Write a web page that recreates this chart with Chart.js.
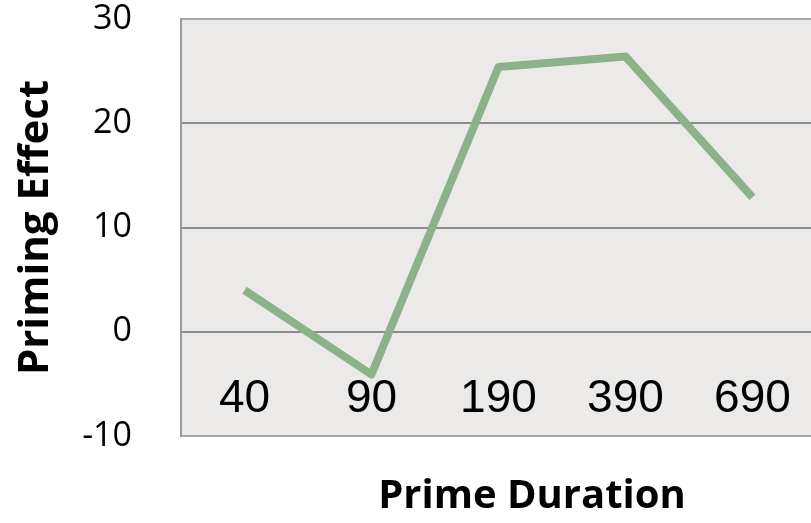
<!DOCTYPE html>
<html>
<head>
<meta charset="utf-8">
<script src="https://cdn.jsdelivr.net/npm/chart.js@4/dist/chart.umd.min.js"></script>
<style>
  html, body { margin: 0; padding: 0; background: #fff; overflow: hidden; }
  #wrap { width: 883px; height: 523px; }
</style>
</head>
<body>
<div id="wrap"><canvas id="chart" width="883" height="523"></canvas></div>
<script>
const categories = ['40', '90', '190', '390', '690'];
const primingEffect = [4.0, -4.1, 25.4, 26.4, 12.9];
const yTicks = [-10, 0, 10, 20, 30];

const plotBg = {
  id: 'plotBg',
  beforeDraw(chart) {
    const { ctx, chartArea: a } = chart;
    ctx.save();
    ctx.fillStyle = '#ebeae8';
    ctx.fillRect(a.left, a.top, a.right - a.left, a.bottom - a.top);
    ctx.restore();
  }
};

new Chart(document.getElementById('chart'), {
  type: 'line',
  data: {
    datasets: [{
      data: primingEffect.map((v, i) => ({ x: i, y: v })),
      borderColor: '#8cb28a',
      borderWidth: 8,
      borderJoinStyle: 'round',
      pointRadius: 0,
      tension: 0,
      fill: false
    }]
  },
  options: {
    responsive: false,
    animation: false,
    devicePixelRatio: 1,
    layout: { padding: { top: 19, left: 0, right: 0, bottom: 0 } },
    plugins: {
      legend: { display: false },
      tooltip: { enabled: false },
      title: {
        display: true,
        text: 'Prime Duration',
        position: 'bottom',
        fullSize: false,
        color: '#000',
        font: { family: 'Open Sans', size: 40, weight: 'bold' },
        padding: { top: 37, bottom: 2 }
      }
    },
    scales: {
      x: {
        type: 'linear',
        position: { y: 0 },
        min: -0.5,
        max: 5.028,
        grid: { display: false },
        border: { display: false },
        afterBuildTicks: s => { s.ticks = categories.map((c, i) => ({ value: i })); },
        afterFit: s => { s.paddingTop = 0; s.paddingBottom = 0; },
        ticks: {
          callback: (v) => categories[v],
          color: '#000',
          font: { family: 'Liberation Sans', size: 46 },
          padding: 32,
          maxRotation: 0
        }
      },
      y: {
        min: yTicks[0],
        max: yTicks[yTicks.length - 1],
        afterFit: s => { s.width = 181; s.paddingTop = 0; s.paddingBottom = 0; },
        afterBuildTicks: s => { s.ticks = yTicks.map(v => ({ value: v })); },
        grid: {
          drawTicks: false,
          lineWidth: 2,
          color: c => (c.tick && (c.tick.value === yTicks[0] || c.tick.value === yTicks[yTicks.length - 1])) ? '#a8a8a8' : '#8c8c8c'
        },
        border: { display: true, color: '#9a9a9a', width: 2 },
        ticks: {
          color: '#000',
          font: { family: 'Open Sans', size: 34, lineHeight: 1 },
          padding: 49
        },
        title: {
          display: true,
          text: 'Priming Effect',
          color: '#000',
          font: { family: 'Open Sans', size: 42, weight: 'bold' },
          padding: { top: 11, bottom: 0 }
        }
      }
    }
  },
  plugins: [plotBg]
});
</script>
</body>
</html>
